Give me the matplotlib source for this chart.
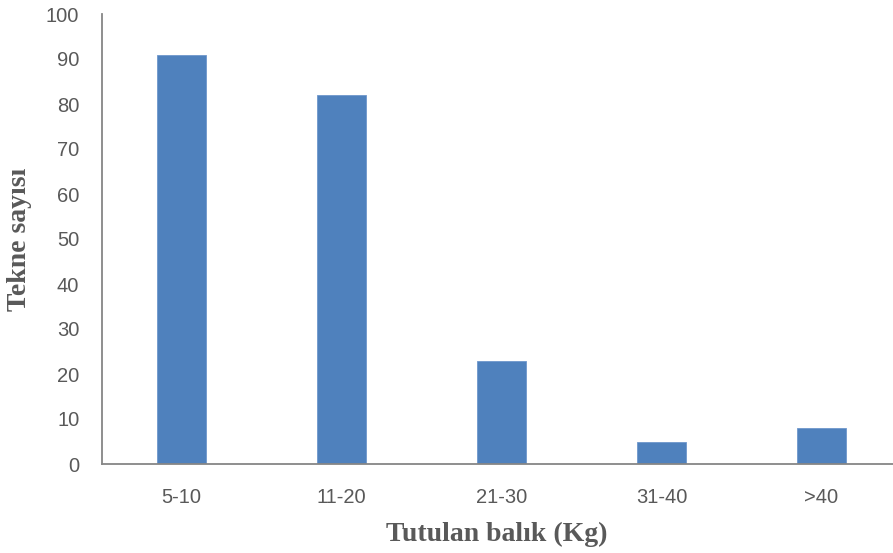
import matplotlib
matplotlib.use("Agg")
import matplotlib.pyplot as plt
import numpy as np

categories = ['5-10', '11-20', '21-30', '31-40', '>40']
counts = [91, 82, 23, 5, 8]

fig = plt.figure(figsize=(8.93, 5.53), dpi=100)
ax = fig.add_axes([101.5 / 893, 1 - 464 / 553, (893 - 101.5) / 893, (464 - 14) / 553])

x = np.arange(len(categories))
ax.bar(x, counts, width=0.31, color='#4F81BD', edgecolor='#6E97CC', linewidth=0.6)

ax.set_xlim(-0.5, -0.5 + (893 - 101.5) / 160)
ax.set_ylim(0, 100)
ax.set_yticks(np.arange(0, 101, 10))
ax.set_xticks(x)
ax.set_xticklabels(categories)

for s in ['top', 'right']:
    ax.spines[s].set_visible(False)
for s in ['left', 'bottom']:
    ax.spines[s].set_color('#868686')
    ax.spines[s].set_linewidth(1.3)

ax.tick_params(axis='both', length=0, labelsize=14.5, labelcolor='#595959')
ax.tick_params(axis='y', pad=16)
ax.tick_params(axis='x', pad=17)
for lab in ax.get_xticklabels() + ax.get_yticklabels():
    lab.set_fontfamily('Liberation Sans')

ax.set_xlabel('Tutulan balık (Kg)', fontsize=20, fontweight='bold',
              fontfamily='Liberation Serif', color='#595959', labelpad=11)
ax.set_ylabel('Tekne sayısı', fontsize=20, fontweight='bold',
              fontfamily='Liberation Serif', color='#595959', labelpad=10)

fig.savefig('out.png', dpi=100)
